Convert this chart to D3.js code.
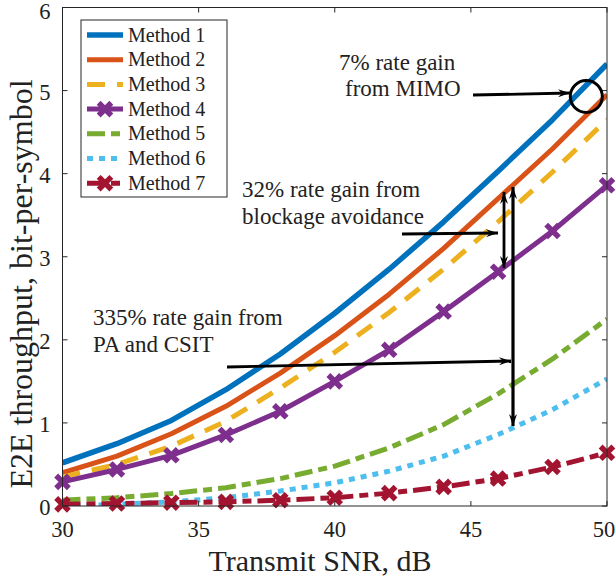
<!DOCTYPE html>
<html><head><meta charset="utf-8">
<script src="https://cdn.jsdelivr.net/npm/d3@7"></script>
<style>body{margin:0;background:#fff}svg{display:block}text{font-family:"Liberation Serif","Times New Roman",serif;fill:#222}</style>
</head><body><svg id="c" width="616" height="581"></svg>
<script>
const snr = [30,32,34,36,38,40,42,44,46,48,50];
const method1 = [0.52,0.75,1.03,1.40,1.83,2.32,2.85,3.42,4.03,4.65,5.32];
const method2 = [0.40,0.60,0.87,1.20,1.60,2.05,2.55,3.10,3.70,4.30,4.95];
const method3 = [0.35,0.50,0.72,1.02,1.42,1.85,2.33,2.85,3.42,4.02,4.65];
const method4 = [0.29,0.44,0.61,0.855,1.14,1.50,1.88,2.34,2.82,3.31,3.86];
const method5 = [0.07,0.10,0.15,0.22,0.33,0.48,0.70,0.98,1.35,1.77,2.25];
const method6 = [0.00,0.02,0.05,0.10,0.18,0.28,0.42,0.60,0.86,1.16,1.53];
const method7 = [0.02,0.03,0.04,0.05,0.07,0.10,0.155,0.23,0.33,0.47,0.64];
const seriesNames = ["Method 1","Method 2","Method 3","Method 4","Method 5","Method 6","Method 7"];
const xTicks = [30,35,40,45,50];
const yTicks = [0,1,2,3,4,5,6];

const styles = [
  {c:"#0072BD", w:5.5, dash:null, marker:false},
  {c:"#D95319", w:5, dash:null, marker:false},
  {c:"#EDB120", w:5, dash:"18,12", marker:false},
  {c:"#7E2F8E", w:5, dash:null, marker:true},
  {c:"#77AC30", w:5, dash:"18,6,9,6", marker:false},
  {c:"#4DBEEE", w:5, dash:"6,6", marker:false},
  {c:"#A2142F", w:5, dash:"18,6,9,6", marker:true}
];
const data = [method1,method2,method3,method4,method5,method6,method7];

const svg = d3.select("#c");
const L=62.5, R=607, T=7.5, B=506;
const x = d3.scaleLinear().domain([30,50]).range([L,R]);
const y = d3.scaleLinear().domain([0,6]).range([B,T]);
const tl = 5;

const line = d3.line().x((d,i)=>x(snr[i])).y(d=>y(d));
const xMark = (cx,cy,s)=>`M${cx-s},${cy-s}L${cx+s},${cy+s}M${cx-s},${cy+s}L${cx+s},${cy-s}`;
const MS = 4.4, MW = 5.5;

svg.append("clipPath").attr("id","cp").append("rect").attr("x",L).attr("y",T).attr("width",R-L).attr("height",B-T);
const plot = svg.append("g");
const lines = plot.append("g").attr("clip-path","url(#cp)");
data.forEach((vals,k)=>{
  const s=styles[k];
  lines.append("path").attr("d",line(vals)).attr("fill","none").attr("stroke",s.c)
    .attr("stroke-width",s.w).attr("stroke-dasharray",s.dash).attr("stroke-linejoin","round");
});
data.forEach((vals,k)=>{
  const s=styles[k];
  if(!s.marker) return;
  plot.append("g").selectAll("path").data(vals).join("path")
    .attr("d",(d,i)=>xMark(x(snr[i]),y(d),MS)).attr("stroke",s.c).attr("stroke-width",MW)
    .attr("stroke-linecap","square").attr("fill","none");
});

// frame
svg.append("rect").attr("x",L).attr("y",T).attr("width",R-L).attr("height",B-T).attr("fill","none").attr("stroke","#262626").attr("stroke-width",1);
const tickG = svg.append("g").attr("stroke","#262626").attr("stroke-width",1);
xTicks.forEach(v=>{
  tickG.append("line").attr("x1",x(v)).attr("x2",x(v)).attr("y1",B).attr("y2",B-tl);
  tickG.append("line").attr("x1",x(v)).attr("x2",x(v)).attr("y1",T).attr("y2",T+tl);
});
yTicks.forEach(v=>{
  tickG.append("line").attr("x1",L).attr("x2",L+tl).attr("y1",y(v)).attr("y2",y(v));
  tickG.append("line").attr("x1",R).attr("x2",R-tl).attr("y1",y(v)).attr("y2",y(v));
});
svg.append("g").selectAll("text").data(xTicks).join("text")
  .attr("x",d=>Math.min(x(d),604)).attr("y",537).attr("text-anchor","middle").attr("font-size",22.5).text(d=>d);
svg.append("g").selectAll("text").data(yTicks).join("text")
  .attr("x",50.5).attr("y",d=>Math.max(y(d)+9,19)).attr("text-anchor","end").attr("font-size",22.5).text(d=>d);
svg.append("text").attr("x",320).attr("y",571).attr("text-anchor","middle").attr("font-size",30).text("Transmit SNR, dB");
svg.append("text").attr("transform","translate(32,284) rotate(-90)").attr("text-anchor","middle").attr("font-size",32).text("E2E throughput, bit-per-symbol");

// legend
const lg = svg.append("g");
lg.append("rect").attr("x",81).attr("y",20).attr("width",146).attr("height",177).attr("fill","#fff").attr("stroke","#262626").attr("stroke-width",1);
seriesNames.forEach((n,k)=>{
  const s=styles[k]; const yy = 35 + k*24.7;
  lg.append("line").attr("x1",87).attr("x2",123).attr("y1",yy).attr("y2",yy).attr("stroke",s.c).attr("stroke-width",s.w).attr("stroke-dasharray",s.dash);
  if(s.marker) lg.append("path").attr("d",xMark(105,yy,MS)).attr("stroke",s.c).attr("stroke-width",MW).attr("stroke-linecap","square");
  lg.append("text").attr("x",128).attr("y",yy+6.5).attr("font-size",20).text(n);
});

// annotations
const ann = svg.append("g");
const defs = svg.append("defs");
defs.append("marker").attr("id","ah").attr("viewBox","0 0 12 8").attr("refX",12).attr("refY",4)
  .attr("markerWidth",12).attr("markerHeight",8).attr("markerUnits","userSpaceOnUse").attr("orient","auto-start-reverse")
  .append("path").attr("d","M0,0L12,4L0,8L4,4Z").attr("fill","#000");
const txt=(t,xx,yy)=>ann.append("text").attr("x",xx).attr("y",yy).attr("font-size",23).text(t);
txt("7% rate gain",339,70); txt("from MIMO",345,96);
txt("32% rate gain from",242,197); txt("blockage avoidance",242,224);
txt("335% rate gain from",93,325); txt("PA and CSIT",93,352);
const arr=(x1,y1,x2,y2,both,w)=>{const l=ann.append("line").attr("x1",x1).attr("y1",y1).attr("x2",x2).attr("y2",y2).attr("stroke","#000").attr("stroke-width",w||2.8).attr("marker-end","url(#ah)"); if(both) l.attr("marker-start","url(#ah)");};
arr(473,95,570,93);
arr(402,234,498,233);
arr(227,367,511,361);
arr(504,192,504,268,true);
arr(513,187,513,426,true,3.2);
ann.append("circle").attr("cx",586.3).attr("cy",96.5).attr("r",16).attr("fill","none").attr("stroke","#000").attr("stroke-width",3);
</script></body></html>
